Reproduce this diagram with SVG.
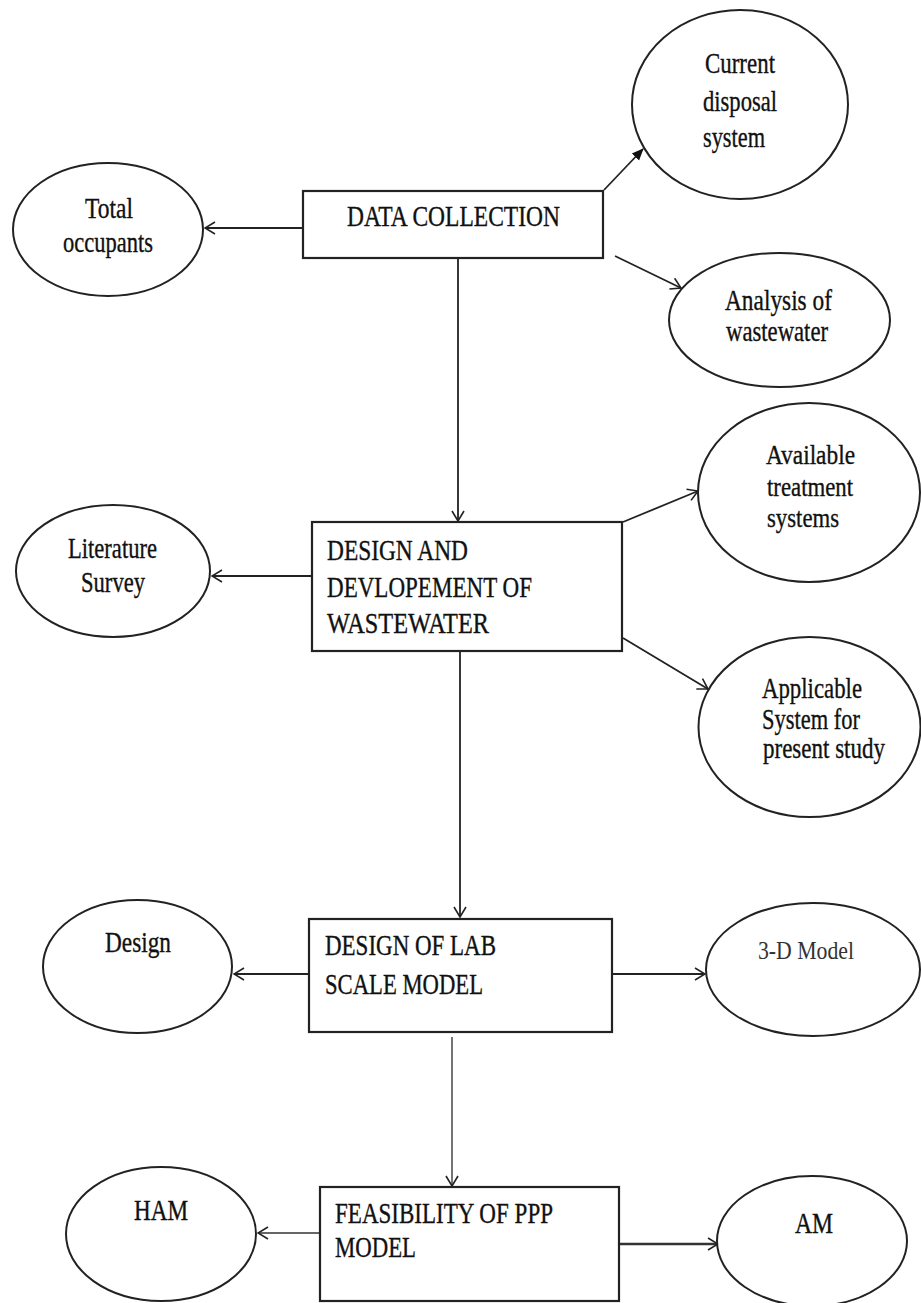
<svg xmlns="http://www.w3.org/2000/svg" width="921" height="1303" viewBox="0 0 921 1303">
  <style>
    .box { fill: #ffffff; stroke: #222222; stroke-width: 2.2; }
    .oval { fill: #ffffff; stroke: #222222; stroke-width: 2; }
    .lbl { font-family: "Liberation Serif", "Times New Roman", serif; font-size: 29px; fill: #111111; stroke: #111111; stroke-width: 0.35; }
    .lbl-sm { font-family: "Liberation Serif", "Times New Roman", serif; font-size: 27px; fill: #111111; stroke: #111111; stroke-width: 0.35; }
    .thin { font-family: "Liberation Serif", "Times New Roman", serif; font-size: 26px; fill: #333333; }
    .edge { fill: none; stroke: #222222; stroke-width: 1.8; }
    .edge-grey { fill: none; stroke: #666666; stroke-width: 1.8; }
    .edge-bold { fill: none; stroke: #333333; stroke-width: 2.6; }
  </style>
  <defs>
    <marker id="open" viewBox="0 0 12 14" refX="11" refY="7" markerWidth="12" markerHeight="14" markerUnits="userSpaceOnUse" orient="auto">
      <path d="M1,1 L11,7 L1,13" fill="none" stroke="#222222" stroke-width="1.6"/>
    </marker>
    <marker id="solid" viewBox="0 0 12 12" refX="11" refY="6" markerWidth="12" markerHeight="12" markerUnits="userSpaceOnUse" orient="auto">
      <path d="M0,1 L12,6 L0,11 Z" fill="#111111"/>
    </marker>
  </defs>

  <rect width="921" height="1303" fill="#ffffff"/>

  <!-- connectors -->
  <g id="connectors">
    <line class="edge" x1="303" y1="228" x2="205" y2="228" marker-end="url(#open)"/>
    <line class="edge" x1="604" y1="190" x2="643" y2="149" marker-end="url(#solid)"/>
    <line class="edge" x1="615" y1="256" x2="681" y2="288" marker-end="url(#open)"/>
    <line class="edge" x1="458" y1="258" x2="458" y2="521" marker-end="url(#open)"/>
    <line class="edge" x1="312" y1="576" x2="212" y2="576" marker-end="url(#open)"/>
    <line class="edge" x1="623" y1="522" x2="698" y2="491" marker-end="url(#open)"/>
    <line class="edge" x1="623" y1="638" x2="708" y2="689" marker-end="url(#open)"/>
    <line class="edge" x1="460" y1="640" x2="460" y2="917" marker-end="url(#open)"/>
    <line class="edge" x1="309" y1="974" x2="234" y2="974" marker-end="url(#open)"/>
    <line class="edge" x1="612" y1="974" x2="705" y2="974" marker-end="url(#open)"/>
    <line class="edge-grey" x1="452" y1="1037" x2="452" y2="1186" marker-end="url(#open)"/>
    <line class="edge-grey" x1="320" y1="1233" x2="258" y2="1233" marker-end="url(#open)"/>
    <line class="edge-bold" x1="620" y1="1244" x2="718" y2="1244" marker-end="url(#open)"/>
  </g>

  <!-- process boxes -->
  <g id="data-collection">
    <rect class="box" x="303" y="191" width="300" height="67"/>
    <text class="lbl" x="347" y="226" textLength="213" lengthAdjust="spacingAndGlyphs">DATA COLLECTION</text>
  </g>
  <g id="design-development">
    <rect class="box" x="312" y="522" width="310" height="129"/>
    <text class="lbl" x="327" y="560" textLength="141" lengthAdjust="spacingAndGlyphs">DESIGN AND</text>
    <text class="lbl" x="327" y="597" textLength="205" lengthAdjust="spacingAndGlyphs">DEVLOPEMENT OF</text>
    <text class="lbl" x="327" y="633" textLength="162" lengthAdjust="spacingAndGlyphs">WASTEWATER</text>
  </g>
  <g id="lab-scale-model">
    <rect class="box" x="309" y="919" width="303" height="113"/>
    <text class="lbl" x="325" y="955" textLength="171" lengthAdjust="spacingAndGlyphs">DESIGN OF LAB</text>
    <text class="lbl" x="325" y="994" textLength="158" lengthAdjust="spacingAndGlyphs">SCALE MODEL</text>
  </g>
  <g id="ppp-feasibility">
    <rect class="box" x="320" y="1187" width="299" height="114"/>
    <text class="lbl" x="335" y="1223" textLength="218" lengthAdjust="spacingAndGlyphs">FEASIBILITY OF PPP</text>
    <text class="lbl" x="335" y="1257" textLength="81" lengthAdjust="spacingAndGlyphs">MODEL</text>
  </g>

  <!-- satellite ovals -->
  <g id="total-occupants">
    <ellipse class="oval" cx="108" cy="229.5" rx="95" ry="66.5"/>
    <text class="lbl" x="85" y="218" textLength="48" lengthAdjust="spacingAndGlyphs">Total</text>
    <text class="lbl" x="63" y="252" textLength="90" lengthAdjust="spacingAndGlyphs">occupants</text>
  </g>
  <g id="current-disposal">
    <ellipse class="oval" cx="740" cy="104.5" rx="108" ry="94.5"/>
    <text class="lbl" x="705" y="73" textLength="70" lengthAdjust="spacingAndGlyphs">Current</text>
    <text class="lbl" x="703" y="111" textLength="74" lengthAdjust="spacingAndGlyphs">disposal</text>
    <text class="lbl" x="703" y="147" textLength="62" lengthAdjust="spacingAndGlyphs">system</text>
  </g>
  <g id="wastewater-analysis">
    <ellipse class="oval" cx="779.5" cy="320" rx="110.5" ry="67"/>
    <text class="lbl" x="725" y="310" textLength="107" lengthAdjust="spacingAndGlyphs">Analysis of</text>
    <text class="lbl" x="726" y="341" textLength="102" lengthAdjust="spacingAndGlyphs">wastewater</text>
  </g>
  <g id="literature-survey">
    <ellipse class="oval" cx="113" cy="571" rx="97" ry="66"/>
    <text class="lbl" x="68" y="558" textLength="89" lengthAdjust="spacingAndGlyphs">Literature</text>
    <text class="lbl" x="81" y="592" textLength="64" lengthAdjust="spacingAndGlyphs">Survey</text>
  </g>
  <g id="available-systems">
    <ellipse class="oval" cx="809" cy="492.5" rx="111" ry="89.5"/>
    <text class="lbl-sm" x="766" y="464" textLength="89" lengthAdjust="spacingAndGlyphs">Available</text>
    <text class="lbl-sm" x="767" y="496" textLength="86" lengthAdjust="spacingAndGlyphs">treatment</text>
    <text class="lbl-sm" x="767" y="527" textLength="72" lengthAdjust="spacingAndGlyphs">systems</text>
  </g>
  <g id="applicable-system">
    <ellipse class="oval" cx="809.5" cy="727" rx="111" ry="90"/>
    <text class="lbl" x="762" y="698" textLength="100" lengthAdjust="spacingAndGlyphs">Applicable</text>
    <text class="lbl" x="762" y="729" textLength="98" lengthAdjust="spacingAndGlyphs">System for</text>
    <text class="lbl" x="763" y="758" textLength="122" lengthAdjust="spacingAndGlyphs">present study</text>
  </g>
  <g id="design">
    <ellipse class="oval" cx="137.5" cy="966.5" rx="94.5" ry="66.5"/>
    <text class="lbl" x="105" y="952" textLength="66" lengthAdjust="spacingAndGlyphs">Design</text>
  </g>
  <g id="model-3d">
    <ellipse class="oval" cx="813" cy="969.5" rx="107" ry="66.5"/>
    <text class="thin" x="758" y="959" textLength="96" lengthAdjust="spacingAndGlyphs">3-D Model</text>
  </g>
  <g id="ham">
    <ellipse class="oval" cx="161" cy="1234" rx="95" ry="67"/>
    <text class="lbl" x="134" y="1220" textLength="54" lengthAdjust="spacingAndGlyphs">HAM</text>
  </g>
  <g id="am">
    <ellipse class="oval" cx="812" cy="1241" rx="95" ry="65"/>
    <text class="lbl" x="795" y="1233" textLength="38" lengthAdjust="spacingAndGlyphs">AM</text>
  </g>
</svg>
